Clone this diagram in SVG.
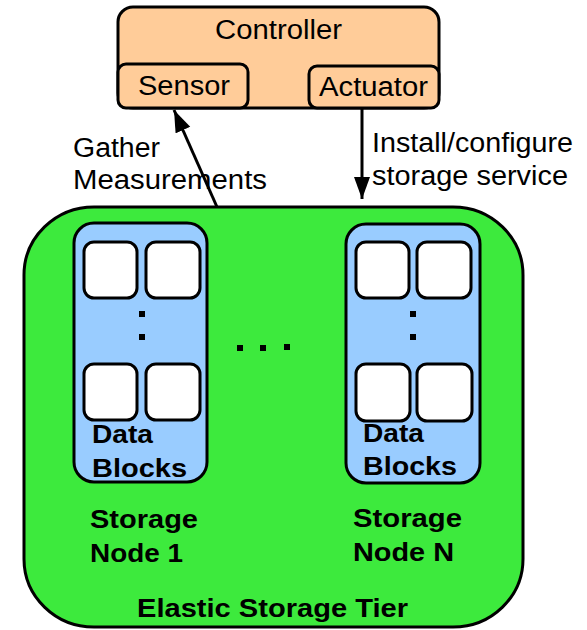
<svg xmlns="http://www.w3.org/2000/svg" width="587" height="630" viewBox="0 0 587 630">
<defs>
<style>
.t{font-family:"Liberation Sans",Arial,sans-serif;font-size:27px;fill:#000}
.b{font-family:"Liberation Sans",Arial,sans-serif;font-size:26px;font-weight:bold;fill:#000}
.box{stroke:#000;stroke-width:3}
.blk{fill:#fff;stroke:#000;stroke-width:3}
.con{stroke:#000;stroke-width:3;fill:none}
</style>
<marker id="ah" markerUnits="userSpaceOnUse" markerWidth="24" markerHeight="18" refX="22" refY="9" orient="auto">
<path d="M0,1 L22,9 L0,17 Z" fill="#000"/>
</marker>
</defs>
<g id="tier">
<rect class="box" x="24" y="207" width="499" height="420" rx="70" ry="68" fill="#3dea3d"/>
<text class="b" x="137" y="617" textLength="271" lengthAdjust="spacingAndGlyphs">Elastic Storage Tier</text>
<rect x="237" y="345" width="6" height="6" fill="#000"/>
<rect x="260" y="345" width="6" height="6" fill="#000"/>
<rect x="284" y="344" width="6" height="6" fill="#000"/>
</g>
<g id="controller">
<rect class="box" x="118" y="7" width="321" height="101" rx="15" fill="#ffcc99"/>
<text class="t" x="215" y="39" textLength="127" lengthAdjust="spacingAndGlyphs">Controller</text>
</g>
<g id="sensor">
<rect class="box" x="118" y="64" width="130" height="44" rx="8" fill="#ffcc99"/>
<text class="t" x="138" y="95" textLength="92" lengthAdjust="spacingAndGlyphs">Sensor</text>
</g>
<g id="actuator">
<rect class="box" x="309" y="66" width="130" height="42" rx="8" fill="#ffcc99"/>
<text class="t" x="319" y="96" textLength="109" lengthAdjust="spacingAndGlyphs">Actuator</text>
</g>
<g id="node1">
<rect class="box" x="74" y="223" width="133" height="259" rx="20" fill="#99ccff"/>
<rect class="blk" x="84" y="242" width="53" height="56" rx="10"/>
<rect class="blk" x="146" y="242" width="54" height="56" rx="10"/>
<rect class="blk" x="84" y="364" width="53" height="56" rx="10"/>
<rect class="blk" x="146" y="364" width="54" height="56" rx="10"/>
<rect x="139" y="311" width="6" height="6" fill="#000"/>
<rect x="139" y="334" width="6" height="6" fill="#000"/>
<text class="b" x="92" y="443" textLength="61" lengthAdjust="spacingAndGlyphs">Data</text>
<text class="b" x="92" y="477" textLength="95" lengthAdjust="spacingAndGlyphs">Blocks</text>
<text class="b" x="90" y="528" textLength="108" lengthAdjust="spacingAndGlyphs">Storage</text>
<text class="b" x="90" y="562" textLength="93" lengthAdjust="spacingAndGlyphs">Node 1</text>
</g>
<g id="nodeN">
<rect class="box" x="346" y="224" width="134" height="259" rx="20" fill="#99ccff"/>
<rect class="blk" x="356" y="242" width="53" height="56" rx="10"/>
<rect class="blk" x="417" y="242" width="54" height="56" rx="10"/>
<rect class="blk" x="356" y="364" width="54" height="57" rx="10"/>
<rect class="blk" x="417" y="364" width="55" height="57" rx="10"/>
<rect x="410" y="311" width="6" height="6" fill="#000"/>
<rect x="410" y="334" width="6" height="6" fill="#000"/>
<text class="b" x="363" y="442" textLength="61" lengthAdjust="spacingAndGlyphs">Data</text>
<text class="b" x="363" y="475" textLength="94" lengthAdjust="spacingAndGlyphs">Blocks</text>
<text class="b" x="353" y="527" textLength="109" lengthAdjust="spacingAndGlyphs">Storage</text>
<text class="b" x="353" y="561" textLength="101" lengthAdjust="spacingAndGlyphs">Node N</text>
</g>
<g id="connectors">
<line class="con" x1="217" y1="207" x2="174" y2="110" marker-end="url(#ah)"/>
<line class="con" x1="362" y1="108" x2="362" y2="199" marker-end="url(#ah)"/>
<text class="t" x="73" y="157" textLength="87" lengthAdjust="spacingAndGlyphs">Gather</text>
<text class="t" x="73" y="189" textLength="194" lengthAdjust="spacingAndGlyphs">Measurements</text>
<text class="t" x="372" y="152" textLength="201" lengthAdjust="spacingAndGlyphs">Install/configure</text>
<text class="t" x="372" y="185" textLength="196" lengthAdjust="spacingAndGlyphs">storage service</text>
</g>
</svg>
